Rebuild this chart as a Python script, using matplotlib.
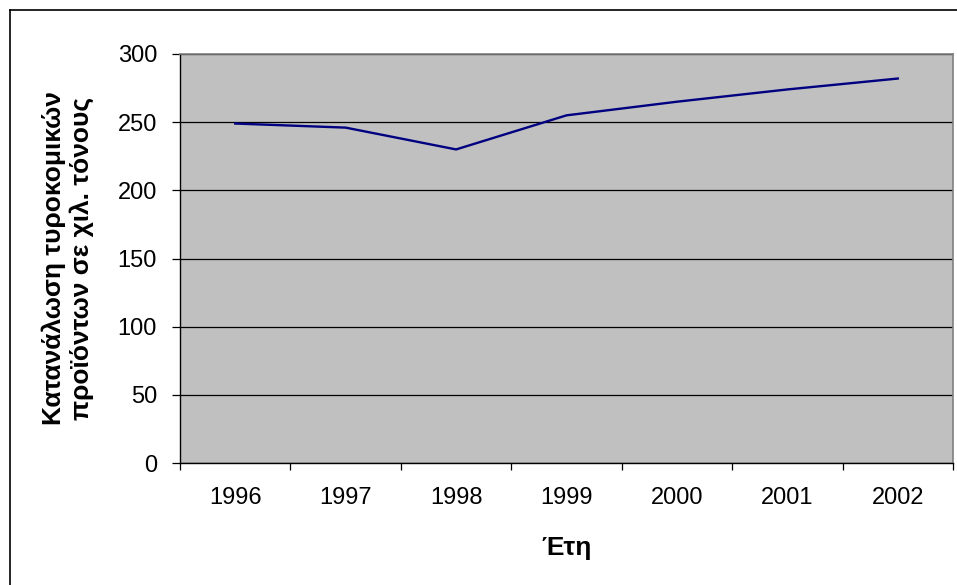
import numpy as np
import matplotlib
matplotlib.use("Agg")
from matplotlib import pyplot as plt
from matplotlib.lines import Line2D

plt.rcParams['font.family'] = ['Liberation Sans', 'DejaVu Sans']

# data
years = ['1996', '1997', '1998', '1999', '2000', '2001', '2002']
consumption = [249, 246, 230, 255, 265, 274, 282]
y_ticks = [0, 50, 100, 150, 200, 250, 300]

fig = plt.figure(figsize=(9.57, 5.85), dpi=100)
ax = fig.add_axes([180 / 957, 1 - 463 / 585, (953 - 180) / 957, (463 - 54) / 585])
ax.set_facecolor('#C0C0C0')

x = np.arange(len(years))
ax.plot(x, consumption, color='#000080', linewidth=1.7, zorder=3)

ax.set_xlim(-0.5, len(years) - 0.5)
ax.set_ylim(0, 300)
ax.set_yticks(y_ticks)
ax.set_yticklabels([str(v) for v in y_ticks], fontsize=17)
ax.yaxis.grid(True, color='black', linewidth=0.9)
ax.set_axisbelow(True)

# x: ticks on category borders, labels centred
ax.set_xticks(np.arange(-0.5, len(years), 1.0))
ax.set_xticklabels([])
ax.set_xticks(x, minor=True)
ax.set_xticklabels(years, minor=True, fontsize=17)
ax.tick_params(axis='x', which='major', direction='out', length=5, width=0.9)
ax.tick_params(axis='x', which='minor', length=0, pad=17)
ax.tick_params(axis='y', direction='out', length=5.5, width=0.9, pad=11)

for s in ['top', 'right']:
    ax.spines[s].set_color('#808080')
    ax.spines[s].set_linewidth(1.2)
for s in ['left', 'bottom']:
    ax.spines[s].set_color('black')
    ax.spines[s].set_linewidth(1.0)

fig.text(68 / 957, 1 - 258 / 585,
         'Κατανάλωση τυροκομικών\nπροϊόντων σε χιλ. τόνους',
         rotation=90, ha='center', va='center', fontsize=19,
         fontweight='bold', linespacing=1.2, multialignment='center')
fig.text((180 + 953) / 2 / 957, 1 - 548 / 585, 'Έτη', ha='center', va='center',
         fontsize=19, fontweight='bold')

# outer chart border (cropped at right and bottom)
fig.add_artist(Line2D([10 / 957, 10 / 957], [0, 1 - 10 / 585], color='black', linewidth=1.2))
fig.add_artist(Line2D([10 / 957, 1], [1 - 10 / 585, 1 - 10 / 585], color='black', linewidth=1.2))

fig.savefig('out.png', dpi=100)
